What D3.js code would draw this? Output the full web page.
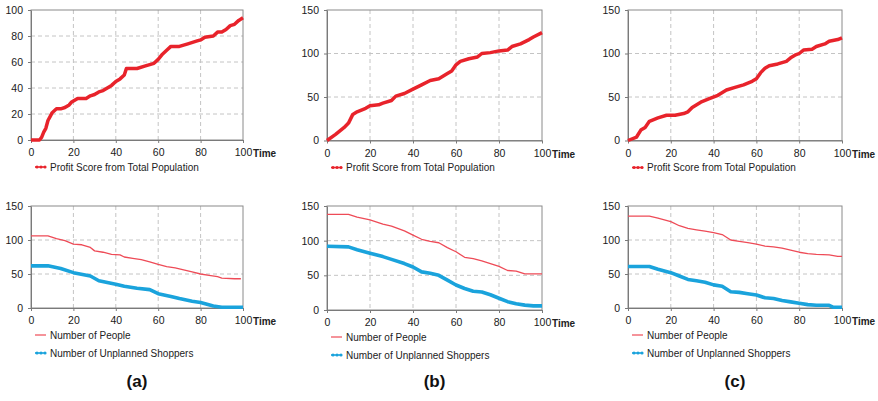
<!DOCTYPE html>
<html>
<head>
<meta charset="utf-8">
<script src="https://cdn.jsdelivr.net/npm/d3@7"></script>
<style>
  body { margin: 0; background: #fff; }
  svg { display: block; }
  .tick text { font-family: "Liberation Sans", Arial, sans-serif; font-size: 10.5px; fill: #1a1a1a; }
</style>
</head>
<body>
<div id="chart"></div>
<script>
// values: [time, value]
var profitA = [[0,0],[4,0],[5,2],[6,6],[7,9],[8,15],[9,18],[10,21],[12,24],[14,24],[16,25],[18,27],[19,29],[20,30],[22,32],[26,32],[28,34],[30,35],[32,37],[34,38],[36,40],[38,42],[40,45],[42,47],[44,50],[45,55],[50,55],[54,57],[58,59],[60,62],[62,66],[64,69],[66,72],[70,72],[74,74],[78,76],[80,77],[82,79],[86,80],[88,83],[90,83],[92,85],[94,88],[96,89],[98,92],[100,94]];
var peopleA = [[0,106],[8,106],[12,102],[16,99],[20,94],[24,93],[28,89],[30,84],[34,82],[38,79],[42,78],[44,75],[48,73],[52,71],[56,68],[60,64],[64,61],[68,59],[72,56],[76,53],[80,50],[84,48],[88,46],[90,44],[96,43],[99,43]];
var shoppersA = [[0,62],[8,62],[14,58],[20,52],[28,47],[32,40],[40,35],[44,32],[50,29],[56,27],[60,21],[66,17],[70,14],[76,10],[80,8],[86,3],[90,1],[96,1],[100,1]];

var profitB = [[0,0],[4,7],[8,15],[10,20],[12,30],[14,33],[18,37],[20,40],[24,41],[26,43],[30,46],[32,51],[36,54],[40,59],[44,64],[48,69],[52,71],[56,77],[58,80],[60,87],[62,91],[66,94],[70,96],[72,100],[76,101],[80,103],[84,104],[86,108],[90,111],[94,116],[96,119],[100,124]];
var peopleB = [[0,138],[10,138],[14,134],[20,130],[26,124],[30,121],[36,114],[40,108],[44,102],[48,99],[52,97],[56,90],[60,84],[64,76],[68,74],[72,71],[76,67],[80,63],[84,57],[88,56],[92,52],[100,52]];
var shoppersB = [[0,92],[10,91],[14,87],[20,82],[26,77],[30,73],[36,67],[40,62],[44,55],[48,53],[52,50],[56,43],[60,36],[64,31],[68,27],[72,26],[76,22],[80,17],[84,12],[88,9],[92,7],[96,6],[100,6]];

var profitC = [[0,0],[4,4],[6,12],[8,15],[10,22],[12,24],[14,26],[18,29],[22,29],[26,31],[28,33],[30,38],[34,44],[38,48],[42,52],[46,58],[50,61],[54,64],[58,68],[60,71],[62,78],[64,83],[66,86],[70,88],[74,91],[76,95],[78,98],[80,100],[82,104],[86,105],[88,108],[92,111],[94,114],[98,116],[100,118]];
var peopleC = [[0,135],[10,135],[14,132],[20,127],[24,121],[28,117],[32,115],[36,113],[40,111],[44,108],[48,100],[52,98],[56,96],[60,94],[64,91],[68,90],[72,88],[76,85],[80,82],[84,80],[88,79],[94,78],[98,76],[100,76]];
var shoppersC = [[0,61],[10,61],[14,57],[20,52],[24,47],[28,42],[32,40],[36,38],[40,34],[44,32],[48,24],[52,23],[56,21],[60,19],[64,15],[68,14],[72,11],[76,9],[80,7],[84,5],[88,4],[94,4],[96,1],[100,1]];

var xTicks = [0, 20, 40, 60, 80, 100];
var yTicksA = [0, 20, 40, 60, 80, 100];
var yTicks150 = [0, 50, 100, 150];
var panelLabels = ["(a)", "(b)", "(c)"];
var legendProfit = "Profit Score from Total Population";
var legendPeople = "Number of People";
var legendShoppers = "Number of Unplanned Shoppers";

var RED = "#e8232b", PINK = "#ee4b57", BLUE = "#1aa3dc";

var svg = d3.select("#chart").append("svg").attr("width", 878).attr("height", 401);

// one small chart
function drawPanel(box, yMax, yTicks, series, legends) {
    var x = d3.scaleLinear().domain([0, 100]).range([box.left, box.right]);
    var y = d3.scaleLinear().domain([0, yMax]).range([box.bottom, box.top]);
    var g = svg.append("g");

    // dashed grid
    g.selectAll(".vg").data(xTicks.slice(1, -1)).enter().append("line")
        .attr("x1", d => x(d)).attr("x2", d => x(d))
        .attr("y1", box.top).attr("y2", box.bottom)
        .attr("stroke", "#c4c4c4").attr("stroke-dasharray", "4,3");
    g.selectAll(".hg").data(yTicks.slice(1, -1)).enter().append("line")
        .attr("x1", box.left).attr("x2", box.right)
        .attr("y1", d => y(d)).attr("y2", d => y(d))
        .attr("stroke", "#c4c4c4").attr("stroke-dasharray", "4,3");

    // frame
    g.append("rect").attr("x", box.left).attr("y", box.top)
        .attr("width", box.right - box.left).attr("height", box.bottom - box.top)
        .attr("fill", "none").attr("stroke", "#8a8a8a");

    // axes
    var ax = g.append("g").attr("transform", "translate(0," + box.bottom + ")")
        .call(d3.axisBottom(x).tickValues(xTicks).tickSize(3).tickPadding(6).tickSizeOuter(0));
    var ay = g.append("g").attr("transform", "translate(" + box.left + ",0)")
        .call(d3.axisLeft(y).tickValues(yTicks).tickSize(3).tickPadding(5).tickSizeOuter(0));
    [ax, ay].forEach(a => {
        a.select(".domain").attr("stroke", "#7a7a7a");
        a.selectAll(".tick line").attr("stroke", "#7a7a7a");
    });

    g.append("text").attr("x", box.right + 10).attr("y", box.bottom + 17)
        .attr("font-family", "Liberation Sans, Arial, sans-serif").attr("font-size", 10)
        .attr("font-weight", "bold").attr("fill", "#222").text("Time");

    // series lines
    var line = d3.line().x(d => x(d[0])).y(d => y(d[1]));
    series.forEach(s => {
        g.append("path").datum(s.data).attr("d", line)
            .attr("fill", "none").attr("stroke", s.color)
            .attr("stroke-width", s.width).attr("stroke-linejoin", "round");
    });

    // legend
    legends.forEach((l, i) => {
        var ly = box.bottom + 27 + i * 18;
        g.append("line").attr("x1", box.left + 4).attr("x2", box.left + 15)
            .attr("y1", ly).attr("y2", ly).attr("stroke", l.color).attr("stroke-width", l.dots ? 1.5 : 1.2);
        if (l.dots) {
            [box.left + 6, box.left + 10, box.left + 14].forEach(cx => {
                g.append("circle").attr("cx", cx).attr("cy", ly).attr("r", 1.6).attr("fill", l.color);
            });
        }
        g.append("text").attr("x", box.left + 19).attr("y", ly + 3.5)
            .attr("font-family", "Liberation Sans, Arial, sans-serif").attr("font-size", l.size)
            .attr("fill", "#222").text(l.text);
    });
}

var tops = [
    { left: 31, right: 243, top: 10, bottom: 140 },
    { left: 327, right: 542, top: 10, bottom: 140.5 },
    { left: 628, right: 842, top: 10, bottom: 140.5 }
];
var bottoms = [
    { left: 31, right: 243, top: 206, bottom: 308 },
    { left: 327, right: 542, top: 206, bottom: 310 },
    { left: 628, right: 842, top: 206, bottom: 308 }
];
var profits = [profitA, profitB, profitC];
var peoples = [peopleA, peopleB, peopleC];
var shoppers = [shoppersA, shoppersB, shoppersC];

for (var i = 0; i < 3; i++) {
    drawPanel(tops[i], i == 0 ? 100 : 150, i == 0 ? yTicksA : yTicks150,
        [{ data: profits[i], color: RED, width: 3.5 }],
        [{ text: legendProfit, color: RED, dots: true, size: 10 }]);
    drawPanel(bottoms[i], 150, yTicks150,
        [{ data: peoples[i], color: PINK, width: 1.3 }, { data: shoppers[i], color: BLUE, width: 3.6 }],
        [{ text: legendPeople, color: PINK, dots: false, size: 10 },
         { text: legendShoppers, color: BLUE, dots: true, size: 10 }]);

    svg.append("text").attr("x", (tops[i].left + tops[i].right) / 2).attr("y", 387)
        .attr("text-anchor", "middle").attr("font-family", "Liberation Sans, Arial, sans-serif")
        .attr("font-size", 17).attr("font-weight", "bold").attr("fill", "#111")
        .text(panelLabels[i]);
}
</script>
</body>
</html>
